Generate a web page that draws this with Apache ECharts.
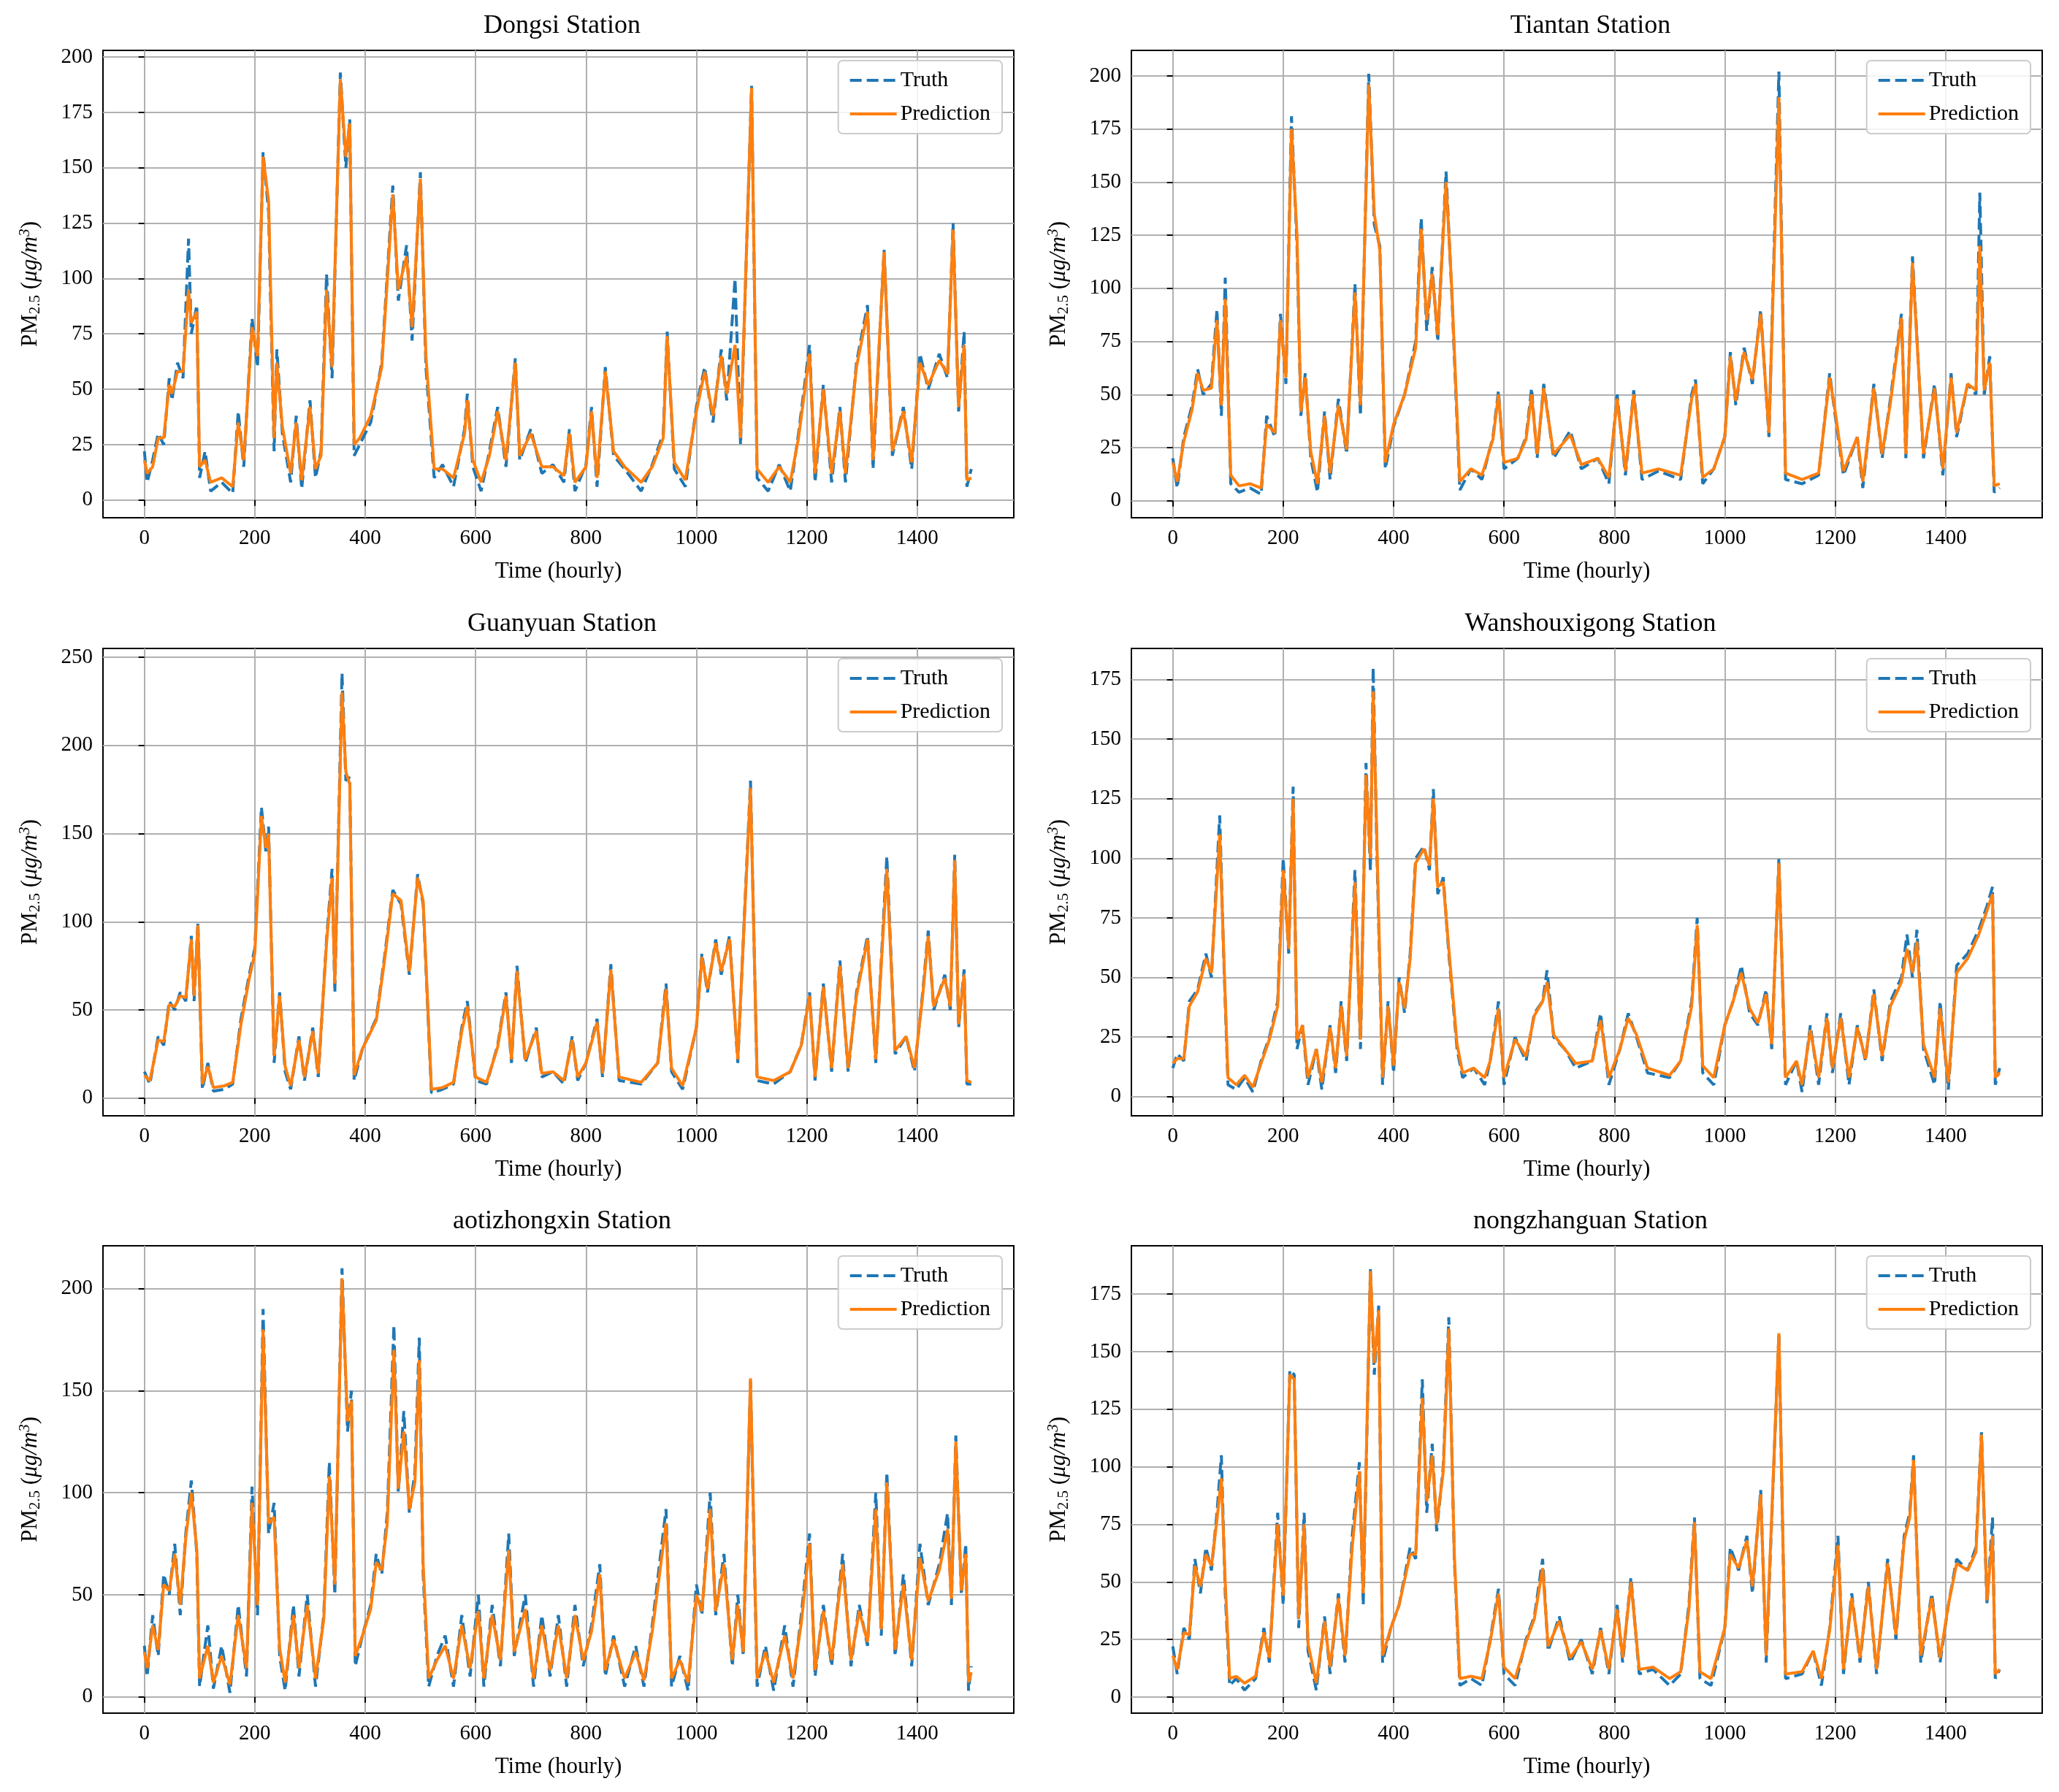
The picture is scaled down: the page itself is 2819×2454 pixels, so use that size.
<!DOCTYPE html>
<html><head><meta charset="utf-8">
<script src="https://cdn.jsdelivr.net/npm/echarts@6/dist/echarts.min.js"></script>
<style>html,body{margin:0;background:#fff}#c{width:2819px;height:2454px}</style>
</head><body><div id="c"></div>
<script>
// station names
const stations = ['Dongsi', 'Tiantan', 'Guanyuan', 'Wanshouxigong', 'aotizhongxin', 'nongzhanguan'];
const xTicks = [0, 200, 400, 600, 800, 1000, 1200, 1400];
const yTicks = [
  [0, 25, 50, 75, 100, 125, 150, 175, 200],
  [0, 25, 50, 75, 100, 125, 150, 175, 200],
  [0, 50, 100, 150, 200, 250],
  [0, 25, 50, 75, 100, 125, 150, 175],
  [0, 50, 100, 150, 200],
  [0, 25, 50, 75, 100, 125, 150, 175]
];
const yMin = [-8, -8, -10, -8, -8, -7];
const yMax = [203, 212, 255, 188, 221, 196];

// [hour, value]
const truth = [
  [[0,22],[5,8],[15,18],[25,30],[35,25],[45,55],[50,45],[60,62],[70,55],[80,118],[85,75],[95,88],[100,10],[110,22],[120,4],[140,8],[160,3],[170,40],[180,15],[195,82],[205,60],[215,157],[225,130],[235,22],[240,68],[250,30],[265,8],[275,38],[285,5],[300,45],[310,10],[320,22],[330,102],[340,55],[355,193],[365,150],[372,172],[380,20],[390,25],[410,35],[430,62],[450,142],[460,90],[475,115],[485,72],[500,148],[510,60],[525,10],[540,16],[560,6],[580,32],[585,48],[595,15],[610,4],[625,22],[640,42],[655,15],[672,64],[680,18],[700,32],[720,12],[740,16],[760,8],[770,32],[780,4],[800,16],[810,42],[820,6],[835,60],[850,20],[870,14],[900,4],[920,16],[940,30],[947,76],[960,14],[980,6],[1000,42],[1015,60],[1030,35],[1045,68],[1055,45],[1070,100],[1080,25],[1100,187],[1110,10],[1130,4],[1150,16],[1170,4],[1185,30],[1205,70],[1215,8],[1230,52],[1245,8],[1260,42],[1270,8],[1290,62],[1310,88],[1320,14],[1340,113],[1355,20],[1375,42],[1390,14],[1405,66],[1420,50],[1440,66],[1455,55],[1465,125],[1475,40],[1485,76],[1490,6],[1498,14]],
  [[0,20],[8,6],[20,30],[35,45],[45,62],[55,50],[70,55],[80,90],[88,40],[95,105],[105,8],[120,4],[140,6],[160,3],[170,40],[185,30],[195,88],[205,55],[215,181],[225,120],[232,40],[240,60],[250,20],[262,4],[275,42],[285,10],[300,48],[315,22],[330,102],[340,40],[355,201],[365,130],[375,120],[385,15],[400,35],[420,50],[440,75],[450,133],[460,80],[470,110],[480,75],[495,155],[505,100],[520,5],[540,15],[560,10],[580,30],[590,52],[600,15],[625,20],[640,30],[650,53],[660,20],[672,55],[690,20],[720,33],[740,15],[770,20],[790,8],[805,50],[820,12],[835,52],[850,10],[880,14],[920,10],[940,50],[947,57],[960,8],[980,15],[1000,30],[1010,70],[1020,45],[1035,72],[1050,55],[1065,90],[1080,30],[1098,202],[1110,10],[1140,8],[1170,12],[1190,60],[1200,40],[1215,12],[1240,30],[1250,6],[1270,55],[1285,20],[1300,48],[1320,88],[1328,20],[1340,115],[1360,20],[1380,55],[1395,12],[1410,60],[1420,30],[1440,55],[1455,50],[1462,145],[1470,50],[1480,68],[1488,4],[1498,6]],
  [[0,15],[10,8],[25,35],[35,30],[45,55],[55,50],[65,60],[75,55],[85,92],[90,55],[97,100],[105,5],[115,20],[125,4],[145,5],[160,8],[175,45],[190,70],[200,85],[212,165],[220,140],[225,154],[235,20],[245,60],[255,15],[265,5],[280,35],[290,10],[305,40],[315,12],[330,90],[340,130],[345,60],[358,241],[365,180],[372,182],[380,10],[395,28],[420,45],[435,80],[450,118],[465,110],[480,70],[495,127],[505,110],[520,3],[540,5],[560,8],[575,40],[585,55],[600,10],[620,8],[640,30],[655,60],[665,20],[675,75],[690,20],[710,40],[720,12],[740,15],[760,8],[775,35],[785,10],[800,20],[820,45],[830,12],[845,76],[860,10],[900,8],[930,20],[945,65],[955,15],[975,5],[1000,40],[1010,82],[1020,60],[1035,90],[1045,70],[1060,92],[1075,20],[1098,180],[1110,10],[1140,8],[1170,15],[1190,30],[1205,60],[1215,10],[1230,65],[1245,15],[1260,78],[1275,15],[1290,60],[1310,92],[1325,20],[1345,137],[1360,25],[1380,35],[1395,15],[1410,60],[1420,95],[1430,50],[1450,70],[1460,50],[1468,138],[1475,40],[1485,73],[1490,8],[1498,8]],
  [[0,12],[8,18],[20,15],[30,40],[45,45],[60,60],[70,50],[85,118],[92,60],[100,5],[115,3],[130,8],[145,2],[160,15],[175,25],[190,40],[200,100],[210,60],[218,130],[225,20],[235,30],[245,5],[260,20],[270,3],[285,30],[295,10],[305,40],[315,15],[330,95],[340,20],[350,140],[358,95],[363,180],[370,100],[380,5],[390,40],[400,10],[410,50],[420,35],[430,60],[440,100],[455,105],[465,95],[472,129],[480,85],[490,92],[500,60],[515,20],[525,8],[545,12],[565,5],[575,15],[590,40],[600,5],[620,25],[640,15],[655,35],[670,40],[678,53],[690,25],[710,20],[730,12],[760,15],[775,35],[790,5],[810,20],[825,35],[840,25],[860,10],[900,8],[920,15],[940,40],[950,75],[960,10],[980,5],[1000,30],[1015,40],[1030,55],[1045,35],[1060,30],[1075,45],[1085,20],[1098,100],[1110,5],[1130,15],[1140,2],[1155,30],[1170,5],[1185,35],[1195,10],[1210,35],[1225,5],[1240,30],[1255,15],[1270,45],[1285,15],[1300,40],[1320,50],[1330,68],[1340,50],[1348,70],[1360,20],[1380,5],[1390,40],[1405,3],[1420,55],[1440,60],[1460,70],[1475,80],[1485,88],[1490,5],[1498,12]],
  [[0,25],[5,10],[15,40],[25,20],[35,60],[45,50],[55,75],[65,40],[75,80],[85,106],[95,70],[100,5],[115,35],[125,4],[140,25],[155,2],[170,45],[185,10],[195,103],[205,40],[215,190],[225,80],[235,95],[245,20],[255,3],[270,45],[280,10],[295,50],[310,5],[325,40],[335,115],[345,50],[358,210],[368,130],[375,150],[382,15],[395,30],[410,45],[420,70],[430,60],[440,90],[452,182],[460,100],[470,140],[480,90],[490,110],[498,176],[505,60],[515,5],[530,20],[545,30],[560,5],[575,40],[590,10],[605,50],[615,5],[630,45],[645,15],[660,80],[670,20],[690,50],[705,5],[720,40],[735,10],[750,40],[765,5],[780,45],[795,15],[810,35],[825,65],[835,10],[850,30],[870,5],[890,25],[905,5],[920,35],[945,92],[955,5],[970,20],[985,3],[1000,55],[1010,40],[1025,100],[1035,40],[1050,70],[1065,15],[1075,50],[1085,20],[1098,155],[1110,5],[1125,25],[1140,3],[1160,35],[1175,5],[1190,40],[1205,80],[1215,10],[1230,45],[1245,15],[1265,70],[1280,15],[1295,45],[1310,25],[1325,100],[1335,30],[1345,110],[1360,20],[1375,60],[1390,15],[1405,75],[1420,45],[1440,65],[1455,90],[1462,45],[1470,128],[1480,50],[1488,75],[1493,3],[1498,15]],
  [[0,22],[8,10],[20,30],[30,25],[40,60],[50,45],[60,65],[70,55],[80,80],[88,105],[95,45],[103,5],[115,8],[130,3],[150,8],[165,30],[175,15],[190,80],[200,40],[212,142],[220,140],[228,30],[238,80],[245,20],[260,3],[275,35],[285,10],[300,45],[312,15],[325,70],[338,102],[345,40],[358,186],[365,140],[373,170],[380,15],[395,30],[410,40],[430,65],[440,60],[452,138],[460,80],[470,110],[478,72],[490,100],[500,165],[510,60],[520,5],[540,8],[560,5],[575,25],[590,47],[600,10],[620,5],[640,25],[655,35],[670,60],[680,20],[700,35],[720,15],[740,25],[760,10],[775,30],[790,10],[805,40],[815,15],[830,52],[845,10],[870,12],[900,5],[920,10],[935,40],[945,78],[955,8],[975,5],[1000,30],[1010,65],[1025,55],[1040,70],[1050,45],[1065,90],[1075,15],[1098,158],[1110,8],[1140,10],[1160,20],[1175,5],[1190,30],[1205,70],[1215,10],[1230,45],[1245,15],[1260,50],[1275,10],[1295,60],[1310,25],[1325,70],[1335,80],[1342,105],[1355,15],[1375,45],[1390,15],[1405,40],[1420,60],[1440,55],[1455,65],[1465,115],[1475,40],[1485,78],[1490,8],[1498,12]]
];
const pred = [
  [[0,18],[5,12],[15,15],[25,28],[35,28],[45,52],[50,48],[60,58],[70,58],[80,95],[85,80],[95,85],[100,15],[110,18],[120,8],[140,10],[160,6],[170,35],[180,18],[195,78],[205,65],[215,155],[225,135],[235,28],[240,62],[250,33],[265,12],[275,35],[285,9],[300,42],[310,14],[320,20],[330,95],[340,60],[355,190],[365,155],[372,170],[380,25],[390,28],[410,38],[430,60],[450,138],[460,95],[475,110],[485,78],[500,145],[510,65],[525,14],[540,14],[560,10],[580,30],[585,45],[595,18],[610,8],[625,20],[640,40],[655,18],[672,62],[680,20],[700,30],[720,15],[740,15],[760,11],[770,30],[780,8],[800,15],[810,40],[820,10],[835,58],[850,22],[870,15],[900,8],[920,15],[940,28],[947,74],[960,17],[980,9],[1000,40],[1015,58],[1030,38],[1045,65],[1055,48],[1070,70],[1080,28],[1100,186],[1110,14],[1130,8],[1150,15],[1170,8],[1185,28],[1205,66],[1215,12],[1230,50],[1245,12],[1260,40],[1270,12],[1290,60],[1310,85],[1320,18],[1340,112],[1355,22],[1375,40],[1390,17],[1405,62],[1420,52],[1440,63],[1455,57],[1465,122],[1475,42],[1485,70],[1490,9],[1498,10]],
  [[0,18],[8,9],[20,28],[35,43],[45,60],[55,52],[70,53],[80,85],[88,45],[95,95],[105,12],[120,7],[140,8],[160,6],[170,36],[185,32],[195,85],[205,58],[215,175],[225,125],[232,42],[240,58],[250,23],[262,8],[275,40],[285,13],[300,45],[315,24],[330,98],[340,45],[355,196],[365,135],[375,118],[385,18],[400,36],[420,50],[440,72],[450,128],[460,85],[470,107],[480,78],[495,150],[505,102],[520,9],[540,15],[560,12],[580,29],[590,50],[600,18],[625,20],[640,29],[650,50],[660,22],[672,53],[690,22],[720,31],[740,17],[770,20],[790,11],[805,48],[820,14],[835,50],[850,13],[880,15],[920,12],[940,48],[947,55],[960,11],[980,15],[1000,30],[1010,68],[1020,47],[1035,70],[1050,57],[1065,88],[1080,32],[1098,190],[1110,13],[1140,10],[1170,13],[1190,58],[1200,42],[1215,14],[1240,30],[1250,9],[1270,53],[1285,22],[1300,46],[1320,86],[1328,22],[1340,112],[1360,22],[1380,53],[1395,15],[1410,58],[1420,32],[1440,55],[1455,52],[1462,120],[1470,52],[1480,65],[1488,7],[1498,8]],
  [[0,13],[10,10],[25,33],[35,32],[45,53],[55,52],[65,58],[75,57],[85,90],[90,58],[97,98],[105,8],[115,18],[125,6],[145,7],[160,9],[175,42],[190,68],[200,82],[212,160],[220,142],[225,150],[235,24],[245,58],[255,18],[265,7],[280,33],[290,12],[305,38],[315,14],[330,88],[340,125],[345,65],[358,230],[365,185],[372,178],[380,13],[395,28],[420,44],[435,78],[450,116],[465,112],[480,72],[495,125],[505,112],[520,5],[540,6],[560,9],[575,38],[585,52],[600,12],[620,9],[640,29],[655,58],[665,22],[675,72],[690,22],[710,38],[720,14],[740,15],[760,10],[775,33],[785,12],[800,20],[820,43],[830,14],[845,73],[860,12],[900,9],[930,20],[945,62],[955,17],[975,7],[1000,40],[1010,80],[1020,62],[1035,88],[1045,72],[1060,90],[1075,22],[1098,176],[1110,12],[1140,10],[1170,15],[1190,30],[1205,58],[1215,12],[1230,63],[1245,17],[1260,75],[1275,17],[1290,58],[1310,90],[1325,22],[1345,130],[1360,27],[1380,35],[1395,17],[1410,58],[1420,92],[1430,52],[1450,68],[1460,52],[1468,135],[1475,42],[1485,70],[1490,10],[1498,9]],
  [[0,14],[8,16],[20,16],[30,38],[45,44],[60,58],[70,52],[85,110],[92,62],[100,8],[115,5],[130,9],[145,4],[160,14],[175,24],[190,38],[200,95],[210,62],[218,125],[225,24],[235,30],[245,8],[260,20],[270,6],[285,29],[295,12],[305,38],[315,17],[330,90],[340,24],[350,135],[358,100],[363,170],[370,105],[380,8],[390,38],[400,13],[410,48],[420,37],[430,58],[440,98],[455,104],[465,97],[472,125],[480,88],[490,90],[500,62],[515,22],[525,10],[545,12],[565,8],[575,15],[590,37],[600,8],[620,24],[640,17],[655,34],[670,40],[678,48],[690,26],[710,20],[730,14],[760,15],[775,32],[790,8],[810,20],[825,33],[840,26],[860,12],[900,9],[920,15],[940,38],[950,72],[960,13],[980,8],[1000,30],[1015,40],[1030,52],[1045,37],[1060,31],[1075,43],[1085,22],[1098,98],[1110,8],[1130,15],[1140,5],[1155,28],[1170,8],[1185,33],[1195,12],[1210,33],[1225,8],[1240,29],[1255,16],[1270,43],[1285,17],[1300,38],[1320,48],[1330,62],[1340,52],[1348,65],[1360,22],[1380,8],[1390,37],[1405,6],[1420,52],[1440,58],[1460,68],[1475,78],[1485,85],[1490,8],[1498,10]],
  [[0,22],[5,14],[15,35],[25,23],[35,55],[45,52],[55,70],[65,45],[75,78],[85,100],[95,72],[100,9],[115,25],[125,7],[140,20],[155,6],[170,40],[185,14],[195,95],[205,45],[215,180],[225,85],[235,88],[245,24],[255,7],[270,40],[280,14],[295,45],[310,9],[325,38],[335,108],[345,55],[358,205],[368,135],[375,145],[382,20],[395,30],[410,43],[420,66],[430,62],[440,85],[452,170],[460,102],[470,130],[480,92],[490,105],[498,165],[505,65],[515,9],[530,18],[545,25],[560,9],[575,35],[590,14],[605,42],[615,9],[630,40],[645,18],[660,72],[670,22],[690,43],[705,9],[720,35],[735,13],[750,35],[765,9],[780,40],[795,18],[810,32],[825,60],[835,13],[850,28],[870,9],[890,22],[905,8],[920,32],[945,85],[955,9],[970,18],[985,7],[1000,50],[1010,42],[1025,92],[1035,42],[1050,65],[1065,18],[1075,45],[1085,22],[1098,156],[1110,9],[1125,22],[1140,7],[1160,30],[1175,9],[1190,36],[1205,75],[1215,13],[1230,42],[1245,18],[1265,65],[1280,18],[1295,42],[1310,27],[1325,92],[1335,33],[1345,105],[1360,23],[1375,55],[1390,18],[1405,68],[1420,47],[1440,62],[1455,82],[1462,48],[1470,125],[1480,52],[1488,70],[1493,7],[1498,12]],
  [[0,18],[8,12],[20,28],[30,27],[40,57],[50,48],[60,62],[70,57],[80,77],[88,95],[95,50],[103,8],[115,9],[130,6],[150,9],[165,28],[175,17],[190,75],[200,44],[212,140],[220,138],[228,34],[238,75],[245,23],[260,6],[275,33],[285,13],[300,43],[312,18],[325,65],[338,98],[345,45],[358,185],[365,145],[373,168],[380,18],[395,30],[410,40],[430,62],[440,62],[452,130],[460,85],[470,105],[478,75],[490,98],[500,160],[510,62],[520,8],[540,9],[560,8],[575,24],[590,45],[600,13],[620,8],[640,24],[655,34],[670,56],[680,22],[700,33],[720,17],[740,24],[760,12],[775,29],[790,12],[805,38],[815,17],[830,50],[845,12],[870,13],[900,8],[920,11],[935,38],[945,76],[955,11],[975,8],[1000,30],[1010,62],[1025,56],[1040,68],[1050,48],[1065,88],[1075,18],[1098,158],[1110,10],[1140,11],[1160,20],[1175,8],[1190,29],[1205,66],[1215,12],[1230,43],[1245,17],[1260,48],[1275,12],[1295,58],[1310,27],[1325,68],[1335,78],[1342,103],[1355,18],[1375,43],[1390,17],[1405,40],[1420,58],[1440,55],[1455,63],[1465,114],[1475,42],[1485,70],[1490,10],[1498,12]]
];

const font = 'Liberation Serif';
const lefts = [141, 1549];
const tops = [69, 888, 1706];
const gw = 1247, gh = 640;

const grid = [], xAxis = [], yAxis = [], series = [], title = [], legend = [];
stations.forEach((name, i) => {
  const col = i % 2, row = Math.floor(i / 2);
  const L = lefts[col], T = tops[row];
  grid.push({left: L, top: T, width: gw, height: gh, show: true, borderColor: '#000', borderWidth: 2, backgroundColor: '#fff'});
  title.push({text: name + ' Station', left: L + gw / 2, top: T - 56, textAlign: 'center',
    textStyle: {fontFamily: font, fontSize: 36, fontWeight: 'normal', color: '#000'}});
  xAxis.push({type: 'value', gridIndex: i, min: -75, max: 1575,
    name: 'Time (hourly)', nameLocation: 'middle', nameGap: 58,
    nameTextStyle: {fontFamily: font, fontSize: 31, color: '#000'},
    axisLine: {show: false},
    axisTick: {show: true, length: 8, lineStyle: {color: '#000', width: 2}, customValues: xTicks},
    axisLabel: {fontFamily: font, fontSize: 29, color: '#000', margin: 14, customValues: xTicks, formatter: v => String(v)},
    splitLine: {show: true, lineStyle: {color: '#b0b0b0', width: 2}}});
  yAxis.push({type: 'value', gridIndex: i, min: yMin[i], max: yMax[i],
    name: '{a|PM}{s|2.5}{a| (}{i|μg/m}{p|3}{a|)}', nameLocation: 'middle', nameGap: 82, nameRotate: 90,
    nameTextStyle: {rich: {
      a: {fontFamily: font, fontSize: 31, color: '#000'},
      i: {fontFamily: font, fontSize: 31, fontStyle: 'italic', color: '#000'},
      s: {fontFamily: font, fontSize: 21, color: '#000', verticalAlign: 'bottom', padding: [12, 0, 0, 0]},
      p: {fontFamily: font, fontSize: 21, fontStyle: 'italic', color: '#000', verticalAlign: 'top', padding: [0, 0, 14, 0]}
    }},
    axisLine: {show: false},
    axisTick: {show: true, length: 8, lineStyle: {color: '#000', width: 2}, customValues: yTicks[i]},
    axisLabel: {fontFamily: font, fontSize: 29, color: '#000', margin: 14, customValues: yTicks[i]},
    splitLine: {show: true, lineStyle: {color: '#b0b0b0', width: 2}}});
  legend.push({data: ['Truth', 'Prediction'], orient: 'vertical', right: 2819 - L - gw + 16,
    top: T + 14, itemWidth: 64, itemHeight: 14, itemGap: 16, padding: [12, 16, 12, 14],
    itemStyle: {color: 'rgba(0,0,0,0)', borderColor: 'rgba(0,0,0,0)', borderWidth: 0},
    lineStyle: {width: 4},
    backgroundColor: 'rgba(255,255,255,0.85)', borderColor: '#ccc', borderWidth: 2, borderRadius: 6,
    textStyle: {fontFamily: font, fontSize: 30, color: '#000'}});
  series.push({name: 'Truth', type: 'line', xAxisIndex: i, yAxisIndex: i, data: truth[i], showSymbol: false,
    symbol: 'none', lineStyle: {color: '#1f77b4', width: 4, type: [16, 7]}, itemStyle: {color: '#1f77b4'}, z: 2});
  series.push({name: 'Prediction', type: 'line', xAxisIndex: i, yAxisIndex: i, data: pred[i], showSymbol: false,
    symbol: 'none', lineStyle: {color: '#ff7f0e', width: 4}, itemStyle: {color: '#ff7f0e'}, z: 3});
});

const chart = echarts.init(document.getElementById('c'));
chart.setOption({animation: false, backgroundColor: '#fff', title, grid, xAxis, yAxis, legend, series});
</script></body></html>
